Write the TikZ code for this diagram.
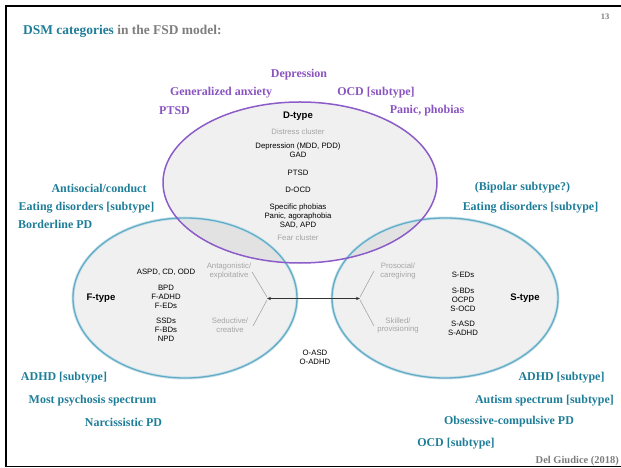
\documentclass[tikz,border=0pt]{standalone}
\usepackage{fontspec}
\setmainfont{Liberation Serif}
\newfontfamily\sansf{Liberation Sans}
\usetikzlibrary{arrows.meta}
\definecolor{purp}{RGB}{138,84,192}
\definecolor{teal2}{RGB}{30,125,152}
\definecolor{ellt}{RGB}{100,172,198}
\definecolor{ellp}{RGB}{140,92,200}
\definecolor{gtxt}{RGB}{125,125,125}
\definecolor{clus}{RGB}{165,165,165}
\begin{document}
\begin{tikzpicture}[x=1bp,y=-1bp,
  plab/.style={font=\fontsize{12}{14}\selectfont\bfseries, text=purp, inner sep=0},
  tlab/.style={font=\fontsize{12}{14}\selectfont\bfseries, text=teal2, inner sep=0},
  itm/.style={font=\sansf\fontsize{7.8}{9}\selectfont, align=center, inner sep=0},
  clu/.style={itm, text=clus},
  typ/.style={font=\sansf\bfseries\fontsize{9.6}{11}\selectfont, inner sep=0},
  vline/.style={draw=clus, line width=0.6bp},
  ellfill/.style={fill=black, fill opacity=0.06},
  tealedge/.style={draw=ellt, line width=1.3bp},
  tealglow/.style={draw=ellt!35, line width=3bp},
  purpedge/.style={draw=ellp, line width=1.5bp},
]
\useasboundingbox (0,0) rectangle (621,468);
% frame
\draw[line width=2.2bp] (5,6) -- (621,6);
\draw[line width=2.2bp] (6,5) -- (6,467);
\draw[line width=0.9bp] (5,466.8) -- (621,466.8);

% ellipses
\path[ellfill] (300,182.5) ellipse [x radius=137bp, y radius=80.5bp];
\path[ellfill] (185,298) ellipse [x radius=112bp, y radius=80bp];
\path[ellfill] (445,298) ellipse [x radius=113bp, y radius=80bp];
\path[tealglow] (185,298) ellipse [x radius=112bp, y radius=80bp];
\path[tealglow] (445,298) ellipse [x radius=113bp, y radius=80bp];
\path[tealedge] (185,298) ellipse [x radius=112bp, y radius=80bp];
\path[tealedge] (445,298) ellipse [x radius=113bp, y radius=80bp];
\path[purpedge] (300,182.5) ellipse [x radius=137bp, y radius=80.5bp];

% title etc.
\node[anchor=west, inner sep=0, font=\fontsize{13.5}{16}\selectfont\bfseries] (title) at (23,31)
  {\textcolor{teal2}{DSM categories} \textcolor{gtxt}{in the FSD model:}};
\node[inner sep=0, font=\fontsize{8.5}{10}\selectfont\bfseries, text=gtxt] (pg) at (605,17) {13};
\node[anchor=east, inner sep=0, font=\fontsize{10.5}{12}\selectfont\bfseries, text=gtxt] (cite) at (619,461) {Del Giudice (2018)};

% D-type
\node[typ] (dt) at (298,116) {D-type};
\node[clu] (dc) at (298,132) {Distress cluster};
\node[itm] (d1) at (298,150.5) {Depression (MDD, PDD)\\GAD};
\node[itm] (d2) at (298,173) {PTSD};
\node[itm] (d3) at (298,190) {D-OCD};
\node[itm] (d4) at (298,216.5) {Specific phobias\\Panic, agoraphobia\\SAD, APD};
\node[clu] (fc) at (298,238) {Fear cluster};

% F-type
\node[typ] (ft) at (101,298) {F-type};
\node[itm] (f1) at (166,272) {ASPD, CD, ODD};
\node[itm] (f2) at (166,297) {BPD\\F-ADHD\\F-EDs};
\node[itm] (f3) at (166,330) {SSDs\\F-BDs\\NPD};
\node[clu] (fa) at (229,271) {Antagonistic/\\exploitative};
\node[clu] (fs) at (230,325.5) {Seductive/\\creative};

% S-type
\node[typ] (st) at (525,298) {S-type};
\node[clu] (sp) at (398,271) {Prosocial/\\caregiving};
\node[clu] (sk) at (398,325.5) {Skilled/\\provisioning};
\node[itm] (s1) at (463,275) {S-EDs};
\node[itm] (s2) at (463,300) {S-BDs\\OCPD\\S-OCD};
\node[itm] (s3) at (463,328.5) {S-ASD\\S-ADHD};

% O
\node[itm] (o) at (315,357) {O-ASD\\O-ADHD};

% V lines and arrow
\coordinate (fv) at (267,298.5);
\coordinate (sv) at (360,298.5);
\coordinate (fa1) at (252,272);
\coordinate (fs1) at (253,326);
\coordinate (sp1) at (374,271);
\coordinate (sk1) at (374,326);
\draw[vline] (fa1) -- ([yshift=1.5bp]fv);
\draw[vline] ([yshift=-1.5bp]fv) -- (fs1);
\draw[vline] (sp1) -- ([yshift=1.5bp]sv);
\draw[vline] ([yshift=-1.5bp]sv) -- (sk1);
\draw[{Stealth[length=4bp,width=3.2bp]}-{Stealth[length=4bp,width=3.2bp]}, line width=0.6bp, black!80] (fv) -- (sv);

% purple labels
\node[plab] (l1) at (299,75) {Depression};
\node[plab] (l2) at (221,93) {Generalized anxiety};
\node[plab] (l3) at (376,93) {OCD [subtype]};
\node[plab] (l4) at (174.5,111) {PTSD};
\node[plab] (l5) at (427,111) {Panic, phobias};

% teal labels
\node[tlab] (a1) at (99,188) {Antisocial/conduct};
\node[tlab] (a2) at (86.5,208) {Eating disorders [subtype]};
\node[tlab, anchor=west] (a3) at (18,224) {Borderline PD};
\node[tlab] (b1) at (522.5,188) {(Bipolar subtype?)};
\node[tlab] (b2) at (530.5,208) {Eating disorders [subtype]};
\node[tlab] (c1) at (64,378) {ADHD [subtype]};
\node[tlab] (c2) at (92.5,401) {Most psychosis spectrum};
\node[tlab] (c3) at (123.5,422) {Narcissistic PD};
\node[tlab] (e1) at (561.5,378) {ADHD [subtype]};
\node[tlab] (e2) at (544.5,401) {Autism spectrum [subtype]};
\node[tlab] (e3) at (509,422) {Obsessive-compulsive PD};
\node[tlab] (e4) at (456,444) {OCD [subtype]};
\end{tikzpicture}
\end{document}
